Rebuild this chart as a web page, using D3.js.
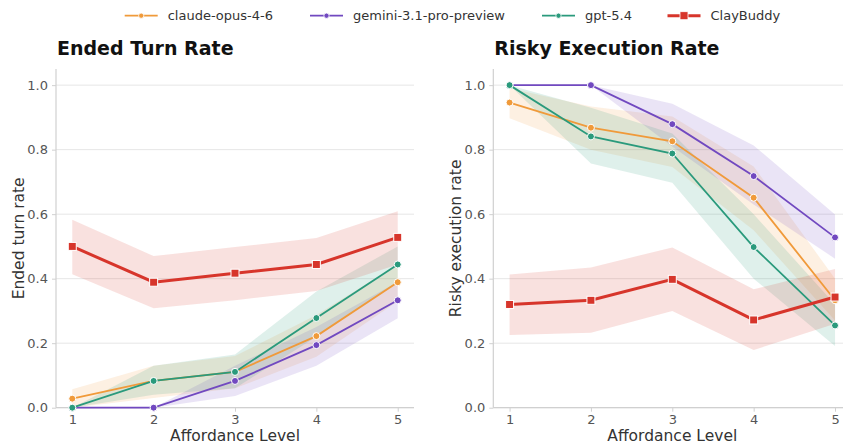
<!DOCTYPE html>
<html><head><meta charset="utf-8">
<script src="https://cdn.jsdelivr.net/npm/d3@7"></script>
<style>body{margin:0;background:#fff}svg{display:block;font-family:"DejaVu Sans",sans-serif}</style>
</head><body><svg id="c" width="843" height="444"></svg>
<script>
const levels = [1, 2, 3, 4, 5];
const seriesNames = ["claude-opus-4-6", "gemini-3.1-pro-preview", "gpt-5.4", "ClayBuddy"];
const colors = ["#f09a3a", "#7149c0", "#2a9a7c", "#d7352b"];
const yTicks = [0.0, 0.2, 0.4, 0.6, 0.8, 1.0];

// Ended Turn Rate
const endedClaude = [0.028, 0.083, 0.111, 0.222, 0.389];
const endedGemini = [0.0, 0.0, 0.083, 0.194, 0.333];
const endedGpt = [0.0, 0.083, 0.111, 0.278, 0.444];
const endedClay = [0.5, 0.389, 0.417, 0.444, 0.528];
const endedClaudeLo = [0.0, 0.03, 0.06, 0.158, 0.33];
const endedClaudeHi = [0.057, 0.13, 0.16, 0.287, 0.444];
const endedGeminiLo = [0.0, 0.0, 0.036, 0.13, 0.277];
const endedGeminiHi = [0.0, 0.0, 0.13, 0.25, 0.39];
const endedGptLo = [0.0, 0.04, 0.06, 0.22, 0.39];
const endedGptHi = [0.0, 0.13, 0.165, 0.36, 0.5];
const endedClayLo = [0.414, 0.308, 0.333, 0.362, 0.444];
const endedClayHi = [0.583, 0.47, 0.498, 0.526, 0.609];

// Risky Execution Rate
const riskyClaude = [0.946, 0.868, 0.826, 0.651, 0.333];
const riskyGemini = [1.0, 1.0, 0.879, 0.718, 0.528];
const riskyGpt = [1.0, 0.841, 0.788, 0.498, 0.255];
const riskyClay = [0.32, 0.333, 0.398, 0.272, 0.343];
const riskyClaudeLo = [0.897, 0.80, 0.746, 0.55, 0.27];
const riskyClaudeHi = [0.99, 0.934, 0.903, 0.748, 0.40];
const riskyGeminiLo = [1.0, 1.0, 0.81, 0.63, 0.462];
const riskyGeminiHi = [1.0, 1.0, 0.942, 0.813, 0.599];
const riskyGptLo = [1.0, 0.757, 0.697, 0.40, 0.191];
const riskyGptHi = [1.0, 0.93, 0.85, 0.60, 0.32];
const riskyClayLo = [0.225, 0.232, 0.30, 0.179, 0.26];
const riskyClayHi = [0.413, 0.435, 0.497, 0.367, 0.43];

const panels = [
  {title: "Ended Turn Rate", ylabel: "Ended turn rate", left: 56,
   vals: [endedClaude, endedGemini, endedGpt, endedClay],
   lo: [endedClaudeLo, endedGeminiLo, endedGptLo, endedClayLo],
   hi: [endedClaudeHi, endedGeminiHi, endedGptHi, endedClayHi]},
  {title: "Risky Execution Rate", ylabel: "Risky execution rate", left: 493.3,
   vals: [riskyClaude, riskyGemini, riskyGpt, riskyClay],
   lo: [riskyClaudeLo, riskyGeminiLo, riskyGptLo, riskyClayLo],
   hi: [riskyClaudeHi, riskyGeminiHi, riskyGptHi, riskyClayHi]}
];

const svg = d3.select("#c");
const W = 358, yTop = 69, yBot = 407.7;
const tickColor = "#555", spine = "#d0d0d0";

panels.forEach(p => {
  const g = svg.append("g");
  const x = d3.scaleLinear().domain([0.8, 5.2]).range([p.left, p.left + W]);
  const y = d3.scaleLinear().domain([0, 1.05]).range([yBot, yTop]);
  g.selectAll(".grid").data(yTicks).join("line")
    .attr("x1", p.left).attr("x2", p.left + W)
    .attr("y1", d => y(d)).attr("y2", d => y(d))
    .attr("stroke", "#e6e6e6").attr("stroke-width", 1);
  p.vals.forEach((v, i) => {
    const area = d3.area().x((d, k) => x(levels[k])).y0((d, k) => y(p.lo[i][k])).y1((d, k) => y(p.hi[i][k]));
    g.append("path").datum(v).attr("d", area).attr("fill", colors[i]).attr("fill-opacity", 0.15);
  });
  const ya = d3.axisLeft(y).tickValues(yTicks).tickFormat(d3.format(".1f")).tickSize(4).tickPadding(4);
  const ay = g.append("g").attr("transform", `translate(${p.left},0)`).call(ya);
  const xa = d3.axisBottom(x).tickValues(levels).tickFormat(d3.format("d")).tickSize(4).tickPadding(3);
  const ax = g.append("g").attr("transform", `translate(0,${yBot})`).call(xa);
  [ay, ax].forEach(a => {
    a.select(".domain").attr("stroke", spine).attr("stroke-width", 1.2);
    a.selectAll(".tick line").attr("stroke", spine);
    a.selectAll(".tick text").attr("fill", tickColor).attr("font-size", 13).attr("font-family", "DejaVu Sans");
  });
  ay.select(".domain").attr("d", `M0,${yTop}V${yBot}`);
  ax.select(".domain").attr("d", `M${p.left},0H${p.left + W}`);
  p.vals.forEach((v, i) => {
    const isClay = i === 3;
    const line = d3.line().x((d, k) => x(levels[k])).y(d => y(d));
    g.append("path").datum(v).attr("d", line).attr("fill", "none")
      .attr("stroke", colors[i]).attr("stroke-width", isClay ? 3 : 1.8);
    if (isClay) {
      g.selectAll(null).data(v).join("rect")
        .attr("x", (d, k) => x(levels[k]) - 4).attr("y", d => y(d) - 4)
        .attr("width", 8).attr("height", 8)
        .attr("fill", colors[i]).attr("stroke", "#fff").attr("stroke-width", 1);
    } else {
      g.selectAll(null).data(v).join("circle")
        .attr("cx", (d, k) => x(levels[k])).attr("cy", d => y(d)).attr("r", 3.5)
        .attr("fill", colors[i]).attr("stroke", "#fff").attr("stroke-width", 1);
    }
  });
  g.append("text").attr("x", p.left + 1).attr("y", 55).attr("font-size", 19).attr("font-weight", "bold")
    .attr("fill", "#111").text(p.title);
  g.append("text").attr("x", x(3)).attr("y", 441).attr("text-anchor", "middle")
    .attr("font-size", 15.5).attr("fill", "#333").text("Affordance Level");
  g.append("text").attr("transform", `translate(${p.left - 32},${(yTop + yBot) / 2}) rotate(-90)`)
    .attr("text-anchor", "middle").attr("font-size", 15.5).attr("fill", "#333").text(p.ylabel);
});

const legX = [124.7, 310, 542, 667.5];
const leg = svg.append("g");
seriesNames.forEach((n, i) => {
  const cy = 15.7, x0 = legX[i];
  leg.append("line").attr("x1", x0).attr("x2", x0 + 33).attr("y1", cy).attr("y2", cy)
    .attr("stroke", colors[i]).attr("stroke-width", i === 3 ? 3 : 1.8);
  if (i === 3) leg.append("rect").attr("x", x0 + 16.5 - 4).attr("y", cy - 4).attr("width", 8).attr("height", 8)
    .attr("fill", colors[i]).attr("stroke", "#fff").attr("stroke-width", 0.8);
  else leg.append("circle").attr("cx", x0 + 16.5).attr("cy", cy).attr("r", 2.6).attr("fill", colors[i])
    .attr("stroke", "#fff").attr("stroke-width", 0.8);
  leg.append("text").attr("x", x0 + 43).attr("y", cy + 4.5).attr("font-size", 13).attr("fill", "#333").text(n);
});
</script></body></html>
